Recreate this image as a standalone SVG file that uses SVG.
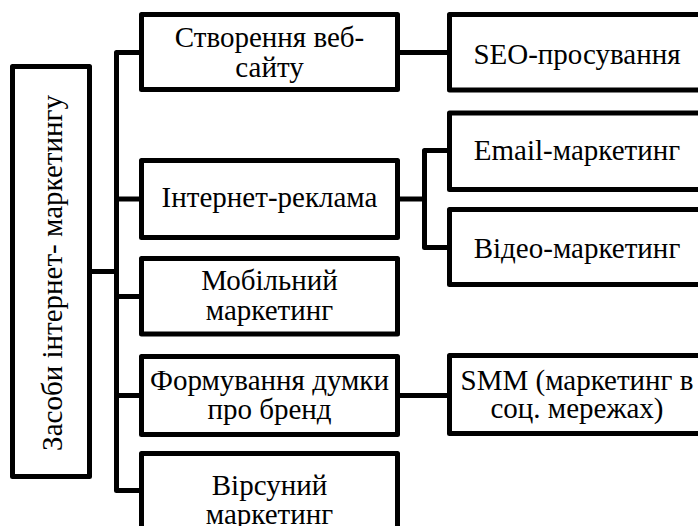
<svg xmlns="http://www.w3.org/2000/svg" width="698" height="526" viewBox="0 0 698 526">
<style>
.box{fill:#fff;stroke:#000;stroke-width:5;stroke-linejoin:round}
.ln{fill:none;stroke:#000;stroke-width:5;stroke-linejoin:round}
.t{font-family:"Liberation Serif",Tinos,"Times New Roman",Times,"Noto Serif","DejaVu Serif",FreeSerif,serif;font-size:29px;fill:#000;text-anchor:middle}
</style>
<rect width="698" height="526" fill="#fff"/>
<g id="connectors">
<path class="ln" d="M141.5,52.5 H116.5 V490.5 H141.5"/>
<path class="ln" d="M116.5,199 H141.5"/>
<path class="ln" d="M116.5,296.5 H141.5"/>
<path class="ln" d="M116.5,395.5 H141.5"/>
<path class="ln" d="M89.5,271.5 H116.5"/>
<path class="ln" d="M397.5,52.5 H449.5"/>
<path class="ln" d="M397.5,199 H424.5"/>
<path class="ln" d="M449.5,150.5 H424.5 V247.5 H449.5"/>
<path class="ln" d="M397.5,395.5 H449.5"/>
</g>
<g id="root">
<rect class="box" x="12.5" y="66.5" width="77" height="410"/>
<text class="t" transform="translate(62,273) rotate(-90)">Засоби інтернет- маркетингу</text>
</g>
<g id="n1">
<rect class="box" x="141.5" y="14.5" width="256" height="75"/>
<text class="t" x="269.5" y="46.5">Створення веб-</text>
<text class="t" x="269.5" y="76.5">сайту</text>
</g>
<g id="n2">
<rect class="box" x="141.5" y="160.5" width="256" height="77"/>
<text class="t" x="269.5" y="207">Інтернет-реклама</text>
</g>
<g id="n3">
<rect class="box" x="141.5" y="258.5" width="256" height="75.5"/>
<text class="t" x="269.5" y="289.5">Мобільний</text>
<text class="t" x="269.5" y="319.5">маркетинг</text>
</g>
<g id="n4">
<rect class="box" x="141.5" y="356.5" width="256" height="78"/>
<text class="t" x="269.5" y="389.5">Формування думки</text>
<text class="t" x="269.5" y="418.5">про бренд</text>
</g>
<g id="n5">
<rect class="box" x="141.5" y="453.5" width="256" height="80"/>
<text class="t" x="269.5" y="495">Вірсуний</text>
<text class="t" x="269.5" y="524">маркетинг</text>
</g>
<g id="seo">
<rect class="box" x="449.5" y="14.5" width="256" height="75.5"/>
<text class="t" x="577" y="63.5">SEO-просування</text>
</g>
<g id="email">
<rect class="box" x="449.5" y="113" width="256" height="76.5"/>
<text class="t" x="577" y="159.5">Email-маркетинг</text>
</g>
<g id="video">
<rect class="box" x="449.5" y="209.5" width="256" height="75"/>
<text class="t" x="577" y="257.5">Відео-маркетинг</text>
</g>
<g id="smm">
<rect class="box" x="449.5" y="355.5" width="256" height="78"/>
<text class="t" x="577" y="389.5">SMM (маркетинг в</text>
<text class="t" x="577" y="418">соц. мережах)</text>
</g>
</svg>
